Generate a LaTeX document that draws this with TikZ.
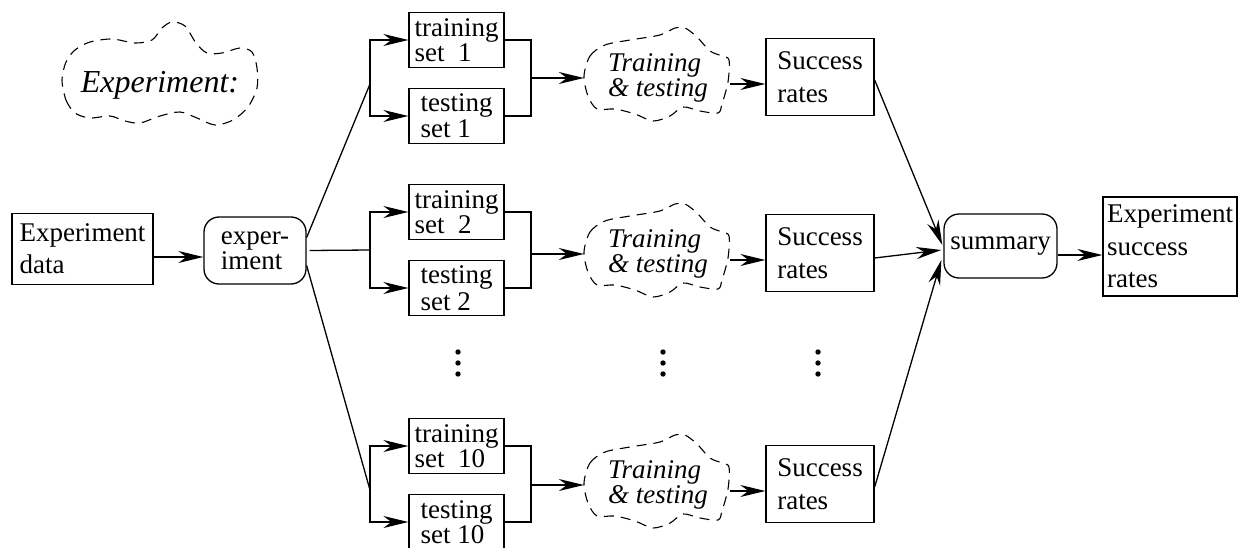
\documentclass[tikz,border=0pt]{standalone}
\usepackage{fontspec}
\setmainfont{Liberation Serif}
\usetikzlibrary{arrows.meta,calc}
\begin{document}
\begin{tikzpicture}[x=1pt,y=-1pt,line width=1.3pt,
  >={Stealth[length=25pt,width=12pt,inset=8pt]},
  every node/.style={inner sep=0pt},
  txt/.style={font=\fontsize{27pt}{#1}\selectfont,align=left},
  txt/.default=25pt,
  sq/.style={draw,rectangle,txt=#1},
  sq/.default=25pt,
  rbox/.style={draw,rectangle,rounded corners=15pt,txt=#1},
  rbox/.default=25pt,
  setbox/.style={sq=#1,minimum width=95pt,minimum height=55pt},
  setbox/.default=25pt,
  ratebox/.style={sq=33pt,minimum width=108pt,minimum height=77pt},
  cloudline/.style={line width=1.1pt,dash pattern=on 10pt off 7pt},
  cloudtext/.style={font=\fontsize{27pt}{22pt}\selectfont\itshape,align=left,
    minimum width=147pt,minimum height=94pt}]
\useasboundingbox (0,0) rectangle (1238,548);

% heading cloud
\node[font=\fontsize{32pt}{34pt}\selectfont\itshape] (head) at (160,85) {Experiment:};
\draw[cloudline] plot[smooth cycle] coordinates {
  (62,80) (66,100) (75,113) (90,118) (110,116) (125,121) (140,123) (160,116)
  (180,112) (197,118) (215,125) (233,120) (248,107) (257,88) (257,68) (252,52)
  (240,48) (222,53) (207,53) (196,43) (185,26) (172,22) (162,28) (152,40)
  (135,43) (112,39) (90,42) (75,50) (66,62)};

% input and splitting
\node[sq=32pt,minimum width=141pt,minimum height=71pt] (ed) at (82.5,249) {Experiment\\data};
\node[rbox,minimum width=102pt,minimum height=67pt] (ex) at (255,250.5) {exper-\\iment};

% training / testing sets
\node[setbox=25pt] (tr1) at (456.5,40)  {training\\set~~1};
\node[setbox=26pt] (te1) at (456.5,116) {testing\\set 1};
\node[setbox=22pt] (tr2) at (456.5,212) {training\\set~~2};
\node[setbox=27pt] (te2) at (456.5,288) {testing\\set 2};
\node[setbox=23pt] (tr3) at (456.5,446) {training\\set~~10};
\node[setbox=25pt] (te3) at (456.5,522) {testing\\set 10};

% training and testing runs
\node[cloudtext] (tt1) at (658,78)  {Training\\\& testing};
\node[cloudtext] (tt2) at (658,254) {Training\\\& testing};
\node[cloudtext] (tt3) at (658,485) {Training\\\& testing};
\foreach \c in {tt1,tt2,tt3}{
  \draw[cloudline,shift={(\c.center)}] plot[smooth cycle] coordinates {
    (-74,-2) (-68,-22) (-53,-33) (-28,-38) (2,-43) (17,-50) (27,-50) (39,-41)
    (52,-27) (64,-22) (71,-18) (70,4) (64,26) (60,35) (42,33) (25,29) (12,38)
    (-5,43) (-23,36) (-43,31) (-61,31) (-70,18)};
}

% success rates
\node[ratebox] (sr1) at (820,77)  {Success\\rates};
\node[ratebox] (sr2) at (820,253) {Success\\rates};
\node[ratebox] (sr3) at (820,484) {Success\\rates};

\node[rbox,minimum width=113pt,minimum height=64pt] (sm) at (1000.5,246) {summary};
\node[sq=32.5pt,minimum width=134pt,minimum height=99pt] (esr) at (1170,246.5) {Experiment\\success\\rates};

% bracket joints
\coordinate (L1) at (370,78);
\coordinate (L2) at (370,250);
\coordinate (L3) at (370,487);
\coordinate (d1) at (370,84);
\coordinate (d3) at (370,490);
\coordinate (R1) at (531,78);
\coordinate (R2) at (531,254);
\coordinate (R3) at (531,485);

% connectors
\draw[->] ($(ed.east)+(0,8)$) coordinate (a0) -- (ex.west |- a0);
\draw ($(ex.east)+(0,-13)$) -- (d1);
\draw ($(ex.east)+(3,0)$) -- (L2);
\draw ($(ex.east)+(0,15)$) -- (d3);

\foreach \i in {1,2,3}{
  \draw[->] (L\i) |- (tr\i.west);
  \draw[->] (L\i) |- (te\i.west);
  \draw (tr\i.east) -| (R\i);
  \draw (te\i.east) -| (R\i);
  \draw[->] (R\i) -- (tt\i.west);
  \draw[->] ($(tt\i.east)+(-2,6)$) -- ($(sr\i.west)+(0,7)$);
}

\draw[->] ($(sr1.east)+(0,3)$) -- ($(sm.west)+(-1,-1)$);
\draw[->] ($(sr2.east)+(0,5)$) -- ($(sm.west)+(-2,4)$);
\draw[->] ($(sr3.east)+(0,3)$) -- ($(sm.west)+(-2,14)$);
\draw[->] ($(sm.east)+(0,9)$) coordinate (a9) -- (esr.west |- a9);

% ellipses between the second and last rows
\foreach \x in {458,663,818}{
  \foreach \y in {352,363,374}{
    \fill (\x,\y) circle (2.7pt);
  }
}
\end{tikzpicture}
\end{document}
